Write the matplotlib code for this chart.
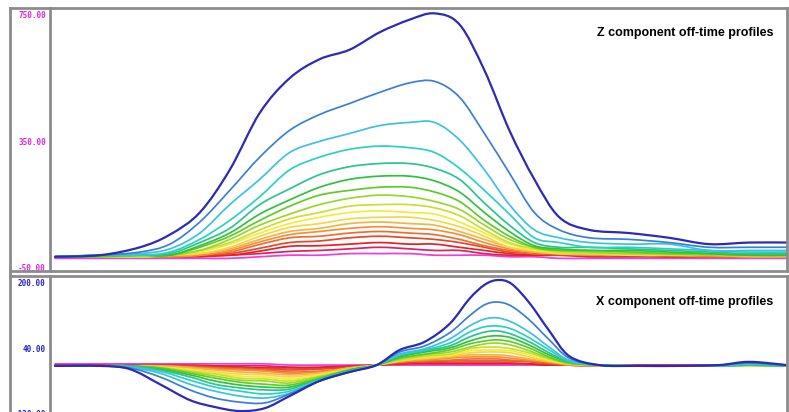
import matplotlib
matplotlib.use("Agg")
import matplotlib.pyplot as plt
from matplotlib.lines import Line2D
from matplotlib.path import Path
from matplotlib.patches import PathPatch

# stations along the line (m)
z_stations = [0, 225, 425, 575, 725, 875, 1025, 1175, 1325, 1475, 1625, 1775,
              1900, 2025, 2150, 2275, 2400, 2525, 2675, 2875, 3075, 3275, 3475, 3665]
x_stations = [0, 225, 375, 525, 675, 800, 925, 1050, 1175, 1325, 1475, 1610, 1725, 1850,
              1975, 2075, 2150, 2215, 2285, 2375, 2475, 2575, 2725, 2925, 3125, 3325, 3475, 3665]

# Z component, channel 1 (early) .. channel 18 (late)
z_channels = [
    [-15, -10, 15, 55, 125, 260, 440, 550, 610, 640, 695, 735, 755, 720, 575, 385, 230, 110, 70, 60, 45, 25, 30, 30],
    [-15, -10, 0, 25, 95, 195, 300, 385, 435, 470, 505, 535, 540, 490, 375, 250, 125, 70, 45, 40, 30, 15, 15, 15],
    [-15, -10, -5, 10, 60, 150, 230, 315, 350, 375, 400, 410, 410, 355, 260, 150, 70, 45, 30, 25, 25, 5, 5, 5],
    [-15, -10, -10, 0, 40, 100, 175, 260, 300, 325, 335, 330, 315, 265, 195, 120, 45, 30, 15, 15, 10, 5, 0, 0],
    [-15, -10, -10, -5, 30, 75, 150, 200, 245, 270, 280, 280, 265, 230, 155, 85, 30, 15, 15, 10, 5, 0, -5, -5],
    [-15, -10, -10, -10, 20, 60, 120, 165, 205, 230, 240, 240, 225, 190, 125, 65, 20, 10, 5, 5, 0, -5, -10, -10],
    [-15, -15, -10, -10, 15, 50, 100, 145, 180, 195, 205, 205, 190, 160, 100, 50, 15, 5, 5, 0, -5, -5, -10, -10],
    [-15, -15, -10, -10, 5, 40, 85, 120, 150, 170, 180, 175, 160, 135, 85, 40, 15, 5, 0, -5, -5, -10, -10, -10],
    [-15, -15, -15, -10, 5, 30, 70, 105, 125, 145, 150, 150, 140, 115, 70, 30, 10, 0, -5, -5, -10, -10, -10, -10],
    [-15, -15, -15, -10, 0, 25, 60, 90, 110, 125, 130, 125, 120, 95, 60, 25, 5, 0, -5, -5, -10, -10, -10, -10],
    [-15, -15, -15, -10, -5, 15, 50, 78, 90, 105, 110, 110, 100, 80, 50, 15, 5, -5, -5, -10, -10, -10, -10, -10],
    [-15, -15, -15, -10, -5, 10, 40, 65, 75, 90, 95, 90, 85, 65, 40, 15, 0, -5, -5, -10, -10, -10, -15, -15],
    [-15, -15, -15, -15, -10, 5, 32, 55, 65, 75, 80, 75, 70, 55, 30, 10, 0, -5, -10, -10, -10, -10, -15, -15],
    [-15, -15, -15, -15, -10, 0, 24, 45, 50, 60, 65, 60, 55, 40, 20, 5, -5, -5, -10, -10, -10, -15, -15, -15],
    [-15, -15, -15, -15, -10, -5, 12, 30, 35, 45, 50, 45, 40, 30, 15, 0, -5, -10, -10, -10, -15, -15, -15, -15],
    [-15, -15, -15, -15, -10, -10, 3, 18, 20, 25, 30, 25, 25, 15, 5, -5, -10, -10, -10, -10, -15, -15, -15, -15],
    [-15, -15, -15, -15, -15, -10, -5, 2, 5, 10, 15, 10, 5, 5, -5, -10, -10, -10, -15, -15, -15, -15, -15, -15],
    [-20, -20, -20, -20, -20, -20, -15, -10, -10, -5, -5, -5, -10, -10, -10, -15, -15, -20, -20, -20, -20, -20, -20, -20],
]

# X component, same channels
x_channels = [
    [-4, -4, -12, -49, -88, -105, -115, -108, -78, -41, -19, -2, 35, 55, 99, 161, 195, 207, 198, 151, 82, 20, -2, -4, -4, -2, 6, -2],
    [-4, -4, -9, -31, -63, -83, -93, -95, -73, -41, -19, -2, 30, 45, 77, 119, 146, 153, 143, 109, 60, 15, -2, -4, -4, -2, 3, -2],
    [-4, -4, -7, -22, -49, -66, -78, -83, -71, -41, -19, -2, 25, 38, 62, 94, 111, 114, 104, 79, 42, 10, -2, -4, -4, -4, 1, -2],
    [-4, -4, -7, -17, -39, -56, -66, -73, -66, -39, -17, -2, 23, 35, 52, 79, 92, 94, 87, 65, 35, 8, -2, -4, -4, -4, 1, -2],
    [-4, -4, -4, -14, -31, -49, -58, -63, -61, -36, -17, -2, 20, 33, 45, 67, 79, 82, 74, 55, 28, 6, -2, -4, -4, -4, -2, -4],
    [-4, -4, -4, -12, -26, -41, -51, -56, -56, -36, -14, -2, 18, 30, 40, 57, 67, 70, 65, 47, 23, 6, -2, -4, -4, -4, -2, -4],
    [-4, -4, -4, -9, -22, -34, -44, -49, -51, -34, -14, -2, 15, 25, 35, 50, 57, 60, 55, 40, 18, 3, -2, -4, -4, -4, -2, -4],
    [-4, -4, -4, -9, -19, -29, -39, -41, -46, -31, -14, -2, 13, 23, 30, 42, 50, 52, 47, 33, 15, 3, -2, -4, -4, -4, -2, -4],
    [-4, -4, -4, -7, -17, -24, -34, -36, -41, -29, -12, -2, 10, 20, 25, 38, 42, 42, 38, 28, 13, 1, -2, -4, -4, -4, -2, -4],
    [-4, -4, -4, -7, -14, -22, -29, -31, -36, -26, -12, -2, 10, 18, 23, 33, 35, 35, 33, 23, 10, 1, -2, -4, -4, -4, -4, -4],
    [-4, -4, -4, -7, -12, -19, -24, -26, -31, -24, -12, -2, 8, 15, 20, 28, 30, 30, 28, 18, 8, 1, -2, -4, -4, -4, -4, -4],
    [-4, -4, -4, -4, -9, -14, -19, -22, -26, -22, -9, -2, 8, 13, 18, 23, 23, 23, 20, 13, 6, 1, -4, -4, -4, -4, -4, -4],
    [-4, -4, -4, -4, -7, -12, -14, -17, -22, -19, -9, -2, 6, 10, 15, 18, 18, 18, 15, 10, 6, -2, -4, -4, -4, -4, -4, -4],
    [-4, -4, -4, -4, -7, -9, -12, -14, -19, -17, -9, -2, 6, 8, 10, 13, 13, 13, 10, 8, 3, -2, -4, -4, -4, -4, -4, -4],
    [-4, -4, -4, -4, -4, -7, -9, -12, -14, -12, -7, -2, 3, 6, 8, 8, 8, 8, 8, 6, 1, -2, -4, -4, -4, -4, -4, -4],
    [-4, -4, -4, -4, -4, -4, -7, -9, -9, -9, -7, -2, 1, 3, 3, 3, 3, 3, 3, 1, -2, -2, -4, -4, -4, -4, -4, -4],
    [-2, -2, -2, -2, -2, -4, -4, -4, -7, -7, -4, -2, 1, 1, 1, 1, 1, 1, 1, 1, -2, -2, -2, -2, -2, -2, -2, -2],
    [1, 1, 1, 1, 1, 1, 1, 1, -2, -2, -2, -2, -2, -2, -2, -2, -2, -2, -2, -2, -2, -2, -2, -2, -2, -2, -2, -2],
]

channel_colors = ['#2b2bb5', '#3a7fd6', '#3cc0e6', '#2ccfc8', '#2cc48a', '#2fc23a',
                  '#5fcb2a', '#98d82a', '#c8e02e', '#f2ec3a', '#f5d64a', '#f4b444',
                  '#f29038', '#f06c30', '#e8452a', '#e02222', '#e0205a', '#f03cd8']

z_ticks = [750, 350, -50]
x_ticks = [200, 40, -120]

W, H = 789, 412
fig = plt.figure(figsize=(W / 100, H / 100), dpi=100)
fig.patch.set_facecolor('white')

def box(x0, y0, x1, y1):
    return [x0 / W, 1 - y1 / H, (x1 - x0) / W, (y1 - y0) / H]

def smooth_line(ax, xs, ys, color, lw):
    # draw the readings as a smooth curve (Catmull-Rom as cubic Bezier segments)
    n = len(xs)
    verts = [(xs[0], ys[0])]
    codes = [Path.MOVETO]
    for k in range(n - 1):
        a = max(k - 1, 0)
        d = min(k + 2, n - 1)
        c1 = (xs[k] + (xs[k + 1] - xs[a]) / 6, ys[k] + (ys[k + 1] - ys[a]) / 6)
        c2 = (xs[k + 1] - (xs[d] - xs[k]) / 6, ys[k + 1] - (ys[d] - ys[k]) / 6)
        verts += [c1, c2, (xs[k + 1], ys[k + 1])]
        codes += [Path.CURVE4] * 3
    ax.add_patch(PathPatch(Path(verts, codes), fill=False, edgecolor=color, lw=lw,
                           joinstyle='round', capstyle='round'))

ax_z = fig.add_axes(box(50, 8, 787, 271))
ax_x = fig.add_axes(box(50, 276, 787, 420))

frame = '#8c8c8c'
for ax in (ax_z, ax_x):
    for s in ax.spines.values():
        s.set_color(frame)
        s.set_linewidth(2)
    ax.set_xlim(-25, 3665)
    ax.set_xticks([])
    ax.tick_params(axis='y', length=0, pad=3)

# late channels drawn first so the early (big) ones sit on top
for i in range(len(z_channels) - 1, -1, -1):
    lw = 1.6 if i == 0 else 1.25
    smooth_line(ax_z, z_stations, z_channels[i], channel_colors[i], lw)
    smooth_line(ax_x, x_stations, x_channels[i], channel_colors[i], lw)

ax_z.set_ylim(-60, 772)
ax_z.set_yticks(z_ticks)
ax_z.set_yticklabels(['%.2f' % t for t in z_ticks], color='#e020e0',
                     family='DejaVu Sans Mono', fontweight='bold', fontsize=5.5)

ax_x.set_ylim(-137, 217)
ax_x.set_yticks(x_ticks)
ax_x.set_yticklabels(['%.2f' % t for t in x_ticks], color='#2020d0',
                     family='DejaVu Sans Mono', fontweight='bold', fontsize=5.5)

ax_z.text(0.982, 0.905, 'Z component off-time profiles', transform=ax_z.transAxes,
          ha='right', va='center', fontsize=9, fontweight='bold', family='Liberation Sans')
ax_x.text(0.982, 0.82, 'X component off-time profiles', transform=ax_x.transAxes,
          ha='right', va='center', fontsize=9, fontweight='bold', family='Liberation Sans')

# outer frame of the label column
def seg(x0, y0, x1, y1, lw=2):
    fig.add_artist(Line2D([x0 / W, x1 / W], [1 - y0 / H, 1 - y1 / H], color=frame, lw=lw))

seg(10, 8, 50, 8)
seg(10, 8, 10, 412)
seg(10, 271, 50, 271)
seg(10, 276, 50, 276)

fig.savefig('out.png', dpi=100, facecolor='white')
